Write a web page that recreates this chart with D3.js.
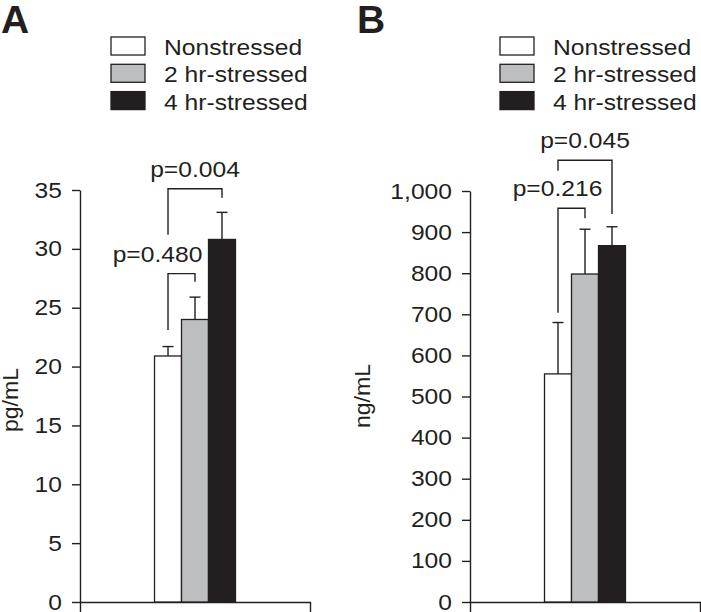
<!DOCTYPE html>
<html>
<head>
<script src="https://d3js.org/d3.v7.min.js"></script>
<style>
  body { margin: 0; background: #fff; }
  text { font-family: Arial, "Liberation Sans", Helvetica, sans-serif; fill: #231f20; }
</style>
</head>
<body>
<div id="chart"></div>
<script>
// ---- data ----
var series = ["Nonstressed", "2 hr-stressed", "4 hr-stressed"];
var seriesColors = ["#ffffff", "#bcbec0", "#231f20"];

// panel A (pg/mL)
var meansA = [20.9, 24.0, 30.8];
var errorsA = [0.8, 1.9, 2.3];
var ticksA = [0, 5, 10, 15, 20, 25, 30, 35];
var bracketsA = [
    {from: 0, to: 1, label: "p=0.480", top: 27.9, leftEnd: 23.1, rightEnd: 27.2},
    {from: 0, to: 2, label: "p=0.004", top: 35.1, leftEnd: 31.2, rightEnd: 34.35}
];

// panel B (ng/mL)
var meansB = [555, 798, 867];
var errorsB = [125, 109, 46];
var ticksB = [0, 100, 200, 300, 400, 500, 600, 700, 800, 900, 1000];
var bracketsB = [
    {from: 0, to: 1, label: "p=0.216", top: 958, leftEnd: 704, rightEnd: 934},
    {from: 0, to: 2, label: "p=0.045", top: 1075, leftEnd: 1049, rightEnd: 944}
];

// ---- layout ----
var width = 701, height = 612;
var ink = "#231f20";
var stretch = 1.12;   // the source type is a bit wider than Arial
var fontSize = 22;

var svg = d3.select("#chart").append("svg")
    .attr("width", width)
    .attr("height", height);

function drawPanel(p) {
    var g = svg.append("g");

    var y = d3.scaleLinear().domain(p.yDomain).range([602, p.yTop]);

    var x0 = d3.scaleBand()
        .domain(["group"])
        .range([p.axisLeft, p.axisRight])
        .paddingOuter(0.92);

    var x1 = d3.scaleBand()
        .domain(series)
        .range([0, x0.bandwidth()]);

    var gx = x0("group");
    function cx(i) { return gx + x1(series[i]) + x1.bandwidth() / 2; }

    // panel letter
    g.append("text")
        .attr("x", p.letterX)
        .attr("y", 33)
        .attr("font-size", 39)
        .attr("font-weight", "bold")
        .text(p.letter);

    // legend
    var leg = g.append("g");
    series.forEach(function (s, i) {
        leg.append("rect")
            .attr("x", p.legendX)
            .attr("y", 37 + i * 27.3)
            .attr("width", 34)
            .attr("height", 18)
            .attr("fill", seriesColors[i])
            .attr("stroke", ink)
            .attr("stroke-width", 1.3);
        leg.append("text")
            .attr("transform", "translate(" + (p.legendX + 53) + "," + (55 + i * 27.3) + ") scale(" + stretch + ",1)")
            .attr("font-size", fontSize)
            .text(s);
    });

    // y axis
    var yAxis = g.append("g")
        .attr("transform", "translate(" + p.axisLeft + ",0)")
        .call(d3.axisLeft(y).tickValues(p.ticks).tickSize(8).tickSizeOuter(0).tickFormat(d3.format(",")));
    yAxis.selectAll("path, line").attr("stroke", ink).attr("stroke-width", 1.4);
    yAxis.selectAll("text")
        .attr("font-size", fontSize)
        .attr("font-family", "Arial, 'Liberation Sans', sans-serif")
        .attr("fill", ink)
        .attr("x", -18 / stretch)
        .attr("transform", "scale(" + stretch + ",1)");

    // x axis: only the two end ticks
    var xAxis = g.append("g")
        .attr("transform", "translate(0,602)")
        .call(d3.axisBottom(x0).tickValues([]).tickSizeOuter(10));
    xAxis.selectAll("path").attr("stroke", ink).attr("stroke-width", 1.4);

    // y label
    g.append("text")
        .attr("transform", "translate(" + p.yLabelX + "," + p.yLabelY + ") rotate(-90) scale(1.05,1)")
        .attr("text-anchor", "middle")
        .attr("font-size", fontSize)
        .text(p.yLabel);

    // bars
    g.selectAll(".bar")
        .data(p.means)
        .enter()
        .append("rect")
        .attr("class", "bar")
        .attr("x", function (d, i) { return gx + x1(series[i]); })
        .attr("y", function (d) { return y(d); })
        .attr("width", x1.bandwidth())
        .attr("height", function (d) { return y(0) - y(d); })
        .attr("fill", function (d, i) { return seriesColors[i]; })
        .attr("stroke", ink)
        .attr("stroke-width", 1.3);

    // error bars (upper only)
    p.means.forEach(function (m, i) {
        var top = y(m + p.errors[i]);
        g.append("line")
            .attr("x1", cx(i)).attr("x2", cx(i))
            .attr("y1", y(m)).attr("y2", top)
            .attr("stroke", ink).attr("stroke-width", 1.4);
        g.append("line")
            .attr("x1", cx(i) - 5.5).attr("x2", cx(i) + 5.5)
            .attr("y1", top).attr("y2", top)
            .attr("stroke", ink).attr("stroke-width", 1.4);
    });

    // significance brackets
    p.brackets.forEach(function (b, k) {
        var xa = cx(b.from), xb = cx(b.to);
        g.append("path")
            .attr("d", "M" + xa + "," + y(b.leftEnd) +
                       "V" + y(b.top) +
                       "H" + xb +
                       "V" + y(b.rightEnd))
            .attr("fill", "none")
            .attr("stroke", ink)
            .attr("stroke-width", 1.4);
        g.append("text")
            .attr("transform", "translate(" + ((xa + xb) / 2 + p.labelShift[k]) + "," + (y(b.top) - 12) + ") scale(" + stretch + ",1)")
            .attr("text-anchor", "middle")
            .attr("font-size", fontSize)
            .text(b.label);
    });
}

drawPanel({
    letter: "A", letterX: 1,
    legendX: 111,
    axisLeft: 80, axisRight: 310,
    yTop: 190, yDomain: [0, 35],
    ticks: ticksA,
    means: meansA, errors: errorsA,
    brackets: bracketsA, labelShift: [-24, 0],
    yLabel: "pg/mL", yLabelX: 18, yLabelY: 400
});

drawPanel({
    letter: "B", letterX: 357,
    legendX: 500,
    axisLeft: 470, axisRight: 700,
    yTop: 191, yDomain: [0, 1000],
    ticks: ticksB,
    means: meansB, errors: errorsB,
    brackets: bracketsB, labelShift: [-14, 0],
    yLabel: "ng/mL", yLabelX: 370, yLabelY: 396
});
</script>
</body>
</html>
